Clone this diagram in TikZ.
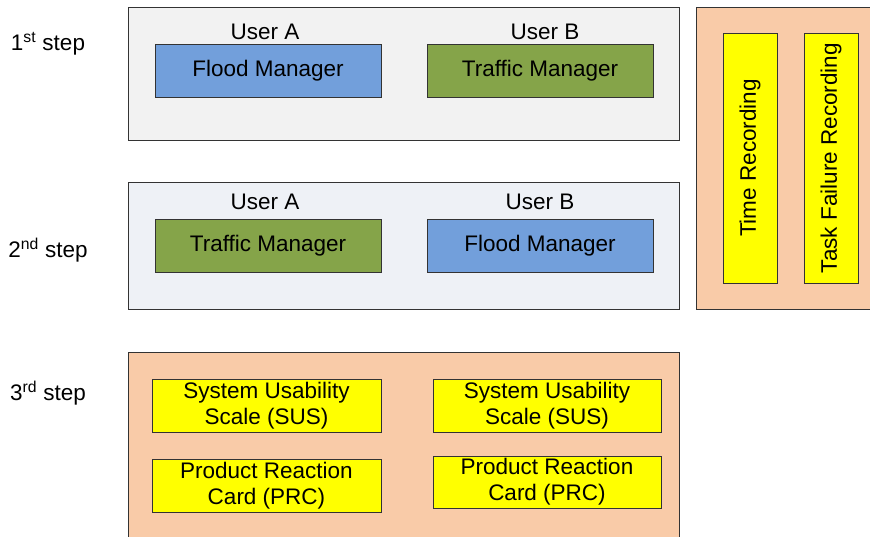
\documentclass[tikz,border=0pt]{standalone}
\usepackage{fontspec}
\setmainfont{Liberation Sans}
\definecolor{panelgray}{HTML}{F2F2F2}
\definecolor{panelblue}{HTML}{EEF1F6}
\definecolor{peach}{HTML}{F9CBA8}
\definecolor{floodblue}{HTML}{729FDB}
\definecolor{trafficgreen}{HTML}{85A449}
\definecolor{yel}{HTML}{FFFF00}
\definecolor{edge}{HTML}{333333}
\begin{document}
\begin{tikzpicture}[x=1pt,y=-1pt,
  every node/.style={font=\fontsize{22.5}{26}\selectfont, inner sep=0pt},
  panel/.style={draw=edge, line width=1pt, rectangle, minimum width=551pt},
  rolebox/.style={draw=edge, line width=1pt, rectangle, minimum width=226pt, minimum height=53pt},
  qbox/.style={draw=edge, line width=1pt, rectangle, fill=yel, minimum height=53pt, align=center},
  recbox/.style={draw=edge, line width=1pt, rectangle, fill=yel, rotate=90, minimum width=250pt, minimum height=54pt},
  lbl/.style={}
]
\useasboundingbox (0,0) rectangle (870,536);
% step labels
\node[lbl] (s1) at (48,44) {1\textsuperscript{st} step};
\node[lbl] (s2) at (48,250) {2\textsuperscript{nd} step};
\node[lbl] (s3) at (48,393) {3\textsuperscript{rd} step};
% panels
\node[panel, fill=panelgray, minimum height=133pt] (p1) at (403.5,73.5) {};
\node[panel, fill=panelblue, minimum height=127pt] (p2) at (403.5,245.5) {};
\node[panel, fill=peach, minimum height=193pt] (p3) at (403.5,448.5) {};
\node[draw=edge, line width=1pt, rectangle, fill=peach, minimum width=184pt, minimum height=302pt] (pr) at (788,158) {};
% step 1
\node[lbl] (ua1) at (265,32) {User A};
\node[lbl] (ub1) at (545,32) {User B};
\node[rolebox, fill=floodblue] (f1) at (268,70.5) {Flood Manager};
\node[rolebox, fill=trafficgreen] (t1) at (540,70.5) {Traffic Manager};
% step 2
\node[lbl] (ua2) at (265,202) {User A};
\node[lbl] (ub2) at (540,202) {User B};
\node[rolebox, fill=trafficgreen] (t2) at (268,245.5) {Traffic Manager};
\node[rolebox, fill=floodblue] (f2) at (540,245.5) {Flood Manager};
% recording
\node[recbox] (tr) at (750,158) {Time Recording};
\node[recbox] (tf) at (831,158) {Task Failure Recording};
% step 3
\node[qbox, minimum width=229pt] (sus1) at (266.5,405.5) {System Usability\\Scale (SUS)};
\node[qbox, minimum width=228pt] (sus2) at (547,405.5) {System Usability\\Scale (SUS)};
\node[qbox, minimum width=229pt] (prc1) at (266.5,485.5) {Product Reaction\\Card (PRC)};
\node[qbox, minimum width=228pt, minimum height=52pt] (prc2) at (547,482) {Product Reaction\\Card (PRC)};
\end{tikzpicture}
\end{document}
